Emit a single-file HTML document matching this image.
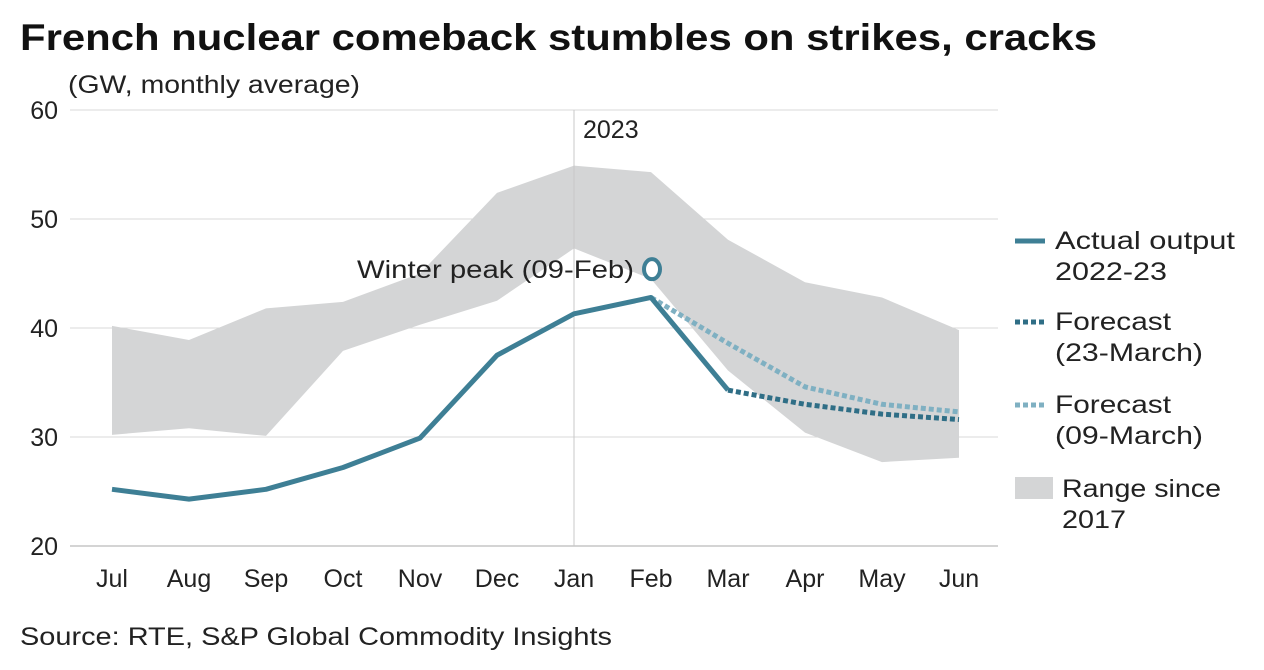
<!DOCTYPE html>
<html><head><meta charset="utf-8"><style>
body{margin:0;background:#fff;font-family:"Liberation Sans",sans-serif;}
svg{display:block}
</style></head><body>
<svg width="1264" height="670" id="c" font-family="Liberation Sans, sans-serif">
<text x="20" y="50" font-size="37" font-weight="bold" fill="#111" textLength="1077" lengthAdjust="spacingAndGlyphs">French nuclear comeback stumbles on strikes, cracks</text>
<text x="68" y="93" font-size="25" fill="#222" textLength="292" lengthAdjust="spacingAndGlyphs">(GW, monthly average)</text>
<text x="20" y="645" font-size="25" fill="#222" textLength="592" lengthAdjust="spacingAndGlyphs">Source: RTE, S&amp;P Global Commodity Insights</text>
<g id="legend" font-size="25" fill="#222">
<line x1="1015" y1="241" x2="1045" y2="241" stroke="#3e7f95" stroke-width="5"/>
<text x="1055" y="249" textLength="180" lengthAdjust="spacingAndGlyphs">Actual output</text>
<text x="1055" y="280" textLength="112" lengthAdjust="spacingAndGlyphs">2022-23</text>
<line x1="1015" y1="322" x2="1045" y2="322" stroke="#2f6e86" stroke-width="5" stroke-dasharray="5,3"/>
<text x="1055" y="330" textLength="116" lengthAdjust="spacingAndGlyphs">Forecast</text>
<text x="1055" y="361" textLength="148" lengthAdjust="spacingAndGlyphs">(23-March)</text>
<line x1="1015" y1="405" x2="1045" y2="405" stroke="#7fb0c2" stroke-width="5" stroke-dasharray="5,3"/>
<text x="1055" y="413" textLength="116" lengthAdjust="spacingAndGlyphs">Forecast</text>
<text x="1055" y="444" textLength="148" lengthAdjust="spacingAndGlyphs">(09-March)</text>
<rect x="1015" y="477" width="38" height="22" fill="#d4d5d6"/>
<text x="1062" y="497" textLength="159" lengthAdjust="spacingAndGlyphs">Range since</text>
<text x="1062" y="528" textLength="64" lengthAdjust="spacingAndGlyphs">2017</text>
</g>
</svg>
<script>
const months=["Jul","Aug","Sep","Oct","Nov","Dec","Jan","Feb","Mar","Apr","May","Jun"];
const yTicks=[20,30,40,50,60];
const actual=[25.2,24.3,25.2,27.2,29.9,37.5,41.3,42.8,34.3];
const forecast23Months=["Mar","Apr","May","Jun"];
const forecast23=[34.3,33.0,32.1,31.6];
const forecast09Months=["Feb","Mar","Apr","May","Jun"];
const forecast09=[42.8,38.6,34.6,33.0,32.3];
const rangeHigh=[40.2,38.9,41.8,42.4,45.0,52.4,54.9,54.3,48.1,44.2,42.8,39.8];
const rangeLow=[30.2,30.8,30.1,37.9,40.3,42.5,47.3,44.5,36.1,30.4,27.7,28.1];
const peakMonth="Feb";
const peakValue=45.4;
const NS="http://www.w3.org/2000/svg";
const svg=document.getElementById('c');
const legend=document.getElementById('legend');
const xS=m=>112+months.indexOf(m)*77;
const yS=v=>546-(v-20)*10.9;
function mk(tag,attrs){const e=document.createElementNS(NS,tag);for(const k in attrs)e.setAttribute(k,attrs[k]);svg.insertBefore(e,legend);return e;}
yTicks.forEach(t=>{
 const l=mk('line',{x1:70,x2:998,y1:yS(t),y2:yS(t),stroke:t===20?'#aaa':'#d8d8d8','stroke-width':1});
 
 
 const tx=mk('text',{x:58,y:yS(t)+9,'font-size':25,fill:'#222','text-anchor':'end'});tx.textContent=t;
 
 
});
let pts=months.map((m,i)=>xS(m)+','+yS(rangeHigh[i])).concat(months.slice().reverse().map((m,j)=>xS(m)+','+yS(rangeLow[months.length-1-j])));
const band=mk('polygon',{points:pts.join(' '),fill:'#d4d5d6'});


const jl=mk('line',{x1:xS("Jan"),x2:xS("Jan"),y1:yS(60),y2:yS(20),stroke:'#c8c8c8','stroke-width':1});


const yr=mk('text',{x:xS("Jan")+9,y:138,'font-size':25,fill:'#222'});yr.textContent="2023";


months.forEach(m=>{const t=mk('text',{x:xS(m),y:587,'font-size':25,fill:'#222','text-anchor':'middle'});t.textContent=m;
 
 });
const f09=mk('polyline',{points:forecast09Months.map((m,i)=>xS(m)+','+yS(forecast09[i])).join(' '),fill:'none',stroke:'#7fb0c2','stroke-width':5,'stroke-dasharray':'5,3'});


const f23=mk('polyline',{points:forecast23Months.map((m,i)=>xS(m)+','+yS(forecast23[i])).join(' '),fill:'none',stroke:'#2f6e86','stroke-width':5,'stroke-dasharray':'5,3'});


const act=mk('polyline',{points:actual.map((v,i)=>xS(months[i])+','+yS(v)).join(' '),fill:'none',stroke:'#3e7f95','stroke-width':5,'stroke-linejoin':'round'});


const pk=mk('ellipse',{cx:xS(peakMonth)+1,cy:yS(peakValue),rx:8,ry:10,fill:'#fff',stroke:'#3e7f95','stroke-width':4});


const pl=mk('text',{x:xS(peakMonth)-17,y:yS(peakValue)+9,'font-size':25,fill:'#222','text-anchor':'end',textLength:277,lengthAdjust:'spacingAndGlyphs'});pl.textContent="Winter peak (09-Feb)";


</script>
</body></html>
